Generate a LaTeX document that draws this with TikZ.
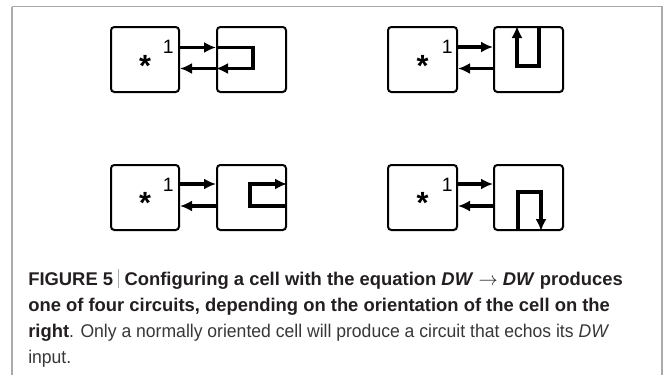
\documentclass[tikz,border=0pt]{standalone}
\usepackage{fontspec}
\setmainfont{Liberation Sans}
\newfontfamily\lightfont[FakeStretch=0.955]{Liberation Sans}
\usetikzlibrary{arrows.meta}
\definecolor{frame}{RGB}{170,170,170}
\definecolor{ink}{RGB}{35,31,32}
\definecolor{lightink}{RGB}{55,55,55}
\begin{document}
\begin{tikzpicture}[x=0.75pt,y=-0.75pt,
  cell/.style={draw=black, line width=1.5pt, rounded corners=2.5pt, minimum height=48.75pt, inner sep=0pt},
  arr/.style={line width=2.3pt, -{Latex[length=9pt,width=8.3pt]}},
  one/.style={font=\fontsize{14.5}{14.5}\selectfont, inner sep=0pt, anchor=base east},
  star/.style={font=\fontsize{23}{23}\selectfont\bfseries, inner sep=0pt, anchor=base},
  captxt/.style={anchor=base west, inner sep=0pt, font=\fontsize{13.8}{16}\selectfont, text=ink}]
\useasboundingbox (0,0) rectangle (667,375);
% frame
\draw[frame, line width=1.6pt] (12,375) -- (12,6.5);
\draw[frame, line width=1.1pt] (12,6.5) -- (662,6.5) -- (662,375);

% panel 1
\node[cell, minimum width=51pt] (L1) at (145,59.5) {};
\node[cell, minimum width=51.75pt] (R1) at (251.5,59.5) {};
\node[one] (n1) at (174,53.5) {1};
\node[star] (s1) at (145,76) {*};
\draw[arr] (L1.east |- 0,47.5) -- (R1.west |- 0,47.5);
\draw[arr] (R1.west |- 0,68.5) -- (L1.east |- 0,68.5);
\draw[arr] (R1.west |- 0,47.5) -- (253,47.5) -- (253,68.5) -- (R1.west |- 0,68.5);

% panel 2
\node[cell, minimum width=51.75pt] (L2) at (422.5,59.5) {};
\node[cell, minimum width=51.75pt] (R2) at (528.5,59.5) {};
\node[one] (n2) at (453,53.5) {1};
\node[star] (s2) at (422.5,76) {*};
\draw[arr] (L2.east |- 0,47) -- (R2.west |- 0,47);
\draw[arr] (R2.west |- 0,68.5) -- (L2.east |- 0,68.5);
\draw[arr] (R2.north -| 539,0) -- (539,66) -- (517,66) -- (R2.north -| 517,0);

% panel 3
\node[cell, minimum width=51pt] (L3) at (145,197.5) {};
\node[cell, minimum width=51.75pt] (R3) at (251.5,197.5) {};
\node[one] (n3) at (174,191.5) {1};
\node[star] (s3) at (145,213) {*};
\draw[arr] (L3.east |- 0,184) -- (R3.west |- 0,184);
\draw[arr] (R3.west |- 0,206) -- (L3.east |- 0,206);
\draw[arr] (R3.east |- 0,206) -- (250,206) -- (250,184) -- (R3.east |- 0,184);

% panel 4
\node[cell, minimum width=51.75pt] (L4) at (422.5,197.5) {};
\node[cell, minimum width=51.75pt] (R4) at (528.5,197.5) {};
\node[one] (n4) at (453,191.5) {1};
\node[star] (s4) at (422.5,213) {*};
\draw[arr] (L4.east |- 0,184) -- (R4.west |- 0,184);
\draw[arr] (R4.west |- 0,206) -- (L4.east |- 0,206);
\draw[arr] (R4.south -| 518,0) -- (518,192) -- (541,192) -- (R4.south -| 541,0);

% caption
\node[captxt] (c1) at (28,285) {\bfseries FIGURE 5\hspace{4pt}\textcolor{frame}{\rule[-2.4pt]{0.6pt}{14.5pt}}\hspace{4pt}Configuring a cell with the equation \textit{DW} $\rightarrow$ \textit{DW} produces};
\node[captxt] (c2) at (28,311) {\bfseries one of four circuits, depending on the orientation of the cell on the};
\node[captxt] (c3) at (28,337) {\textbf{right}\lightfont\color{lightink}. Only a normally oriented cell will produce a circuit that echos its \textit{DW}};
\node[captxt] (c4) at (28,363) {\lightfont\color{lightink}input.};
\end{tikzpicture}
\end{document}
